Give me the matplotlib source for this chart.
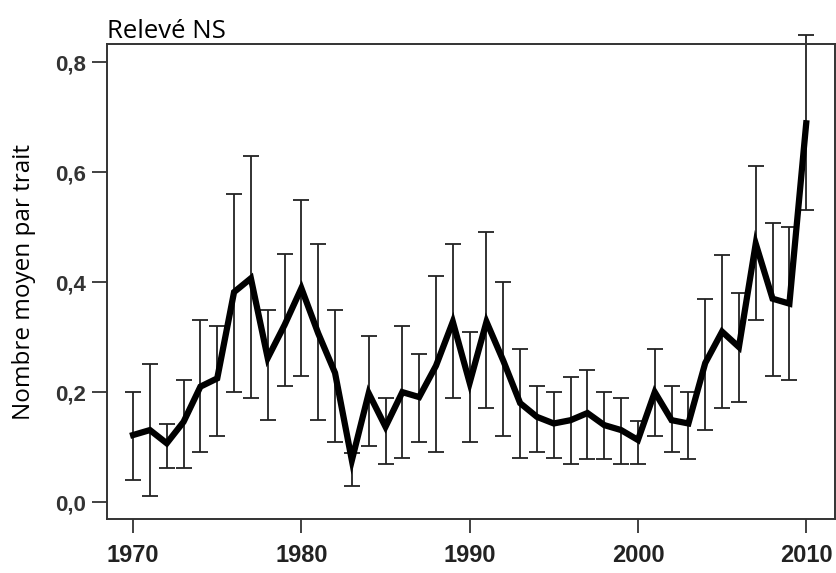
import numpy as np
import matplotlib.pyplot as plt

years = np.arange(1970, 2011)
moyenne = [0.122, 0.131, 0.107, 0.146, 0.21, 0.225, 0.382, 0.407, 0.262, 0.322,
           0.389, 0.307, 0.235, 0.076, 0.198, 0.137, 0.2, 0.191, 0.248, 0.328,
           0.217, 0.328, 0.257, 0.18, 0.155, 0.143, 0.149, 0.162, 0.14, 0.131,
           0.113, 0.2, 0.149, 0.143, 0.253, 0.31, 0.282, 0.47, 0.37, 0.361, 0.689]
haut = [0.2, 0.251, 0.142, 0.222, 0.331, 0.32, 0.56, 0.629, 0.349, 0.451,
        0.549, 0.469, 0.349, 0.09, 0.302, 0.189, 0.32, 0.269, 0.411, 0.469,
        0.31, 0.491, 0.4, 0.279, 0.211, 0.2, 0.228, 0.24, 0.2, 0.189,
        0.148, 0.279, 0.211, 0.2, 0.37, 0.45, 0.381, 0.611, 0.508, 0.5, 0.849]
bas = [0.04, 0.011, 0.062, 0.062, 0.091, 0.12, 0.2, 0.19, 0.149, 0.211,
       0.229, 0.149, 0.11, 0.029, 0.102, 0.069, 0.08, 0.11, 0.091, 0.189,
       0.11, 0.171, 0.12, 0.08, 0.091, 0.08, 0.07, 0.079, 0.079, 0.07,
       0.07, 0.12, 0.091, 0.079, 0.131, 0.171, 0.182, 0.331, 0.229, 0.222, 0.531]

moyenne = np.array(moyenne)
err = [moyenne - np.array(bas), np.array(haut) - moyenne]

fig = plt.figure(figsize=(8.36, 5.73), dpi=100)
ax = fig.add_axes([0.128, 0.094, 0.871, 0.829])

eb = ax.errorbar(years, moyenne, yerr=err, fmt='none', ecolor='#222222',
                 elinewidth=1.3, capsize=6, capthick=1.3, zorder=2)
for art in eb.lines[1] + eb.lines[2]:
    art.set_clip_on(False)
ax.plot(years, moyenne, color='black', lw=4.5, solid_joinstyle='miter', zorder=3)

ax.set_xlim(1968.45, 2011.72)
ax.set_ylim(-0.031, 0.833)
ax.set_xticks([1970, 1980, 1990, 2000, 2010])
ax.set_xticklabels(['1970', '1980', '1990', '2000', '2010'],
                   family=['Liberation Sans Narrow', 'Liberation Sans'], fontsize=17,
                   fontweight='bold', color='#222222')
ax.set_yticks([0, 0.2, 0.4, 0.6, 0.8])
ax.set_yticklabels(['0,0', '0,2', '0,4', '0,6', '0,8'],
                   family='Liberation Sans', fontsize=16, fontweight='bold', color='#333333')
ax.tick_params(axis='x', length=10, width=1.3, color='#333333', pad=8)
ax.tick_params(axis='y', length=11, width=1.3, color='#333333', pad=4)
for s in ax.spines.values():
    s.set_linewidth(1.4)
    s.set_color('#333333')

ax.set_ylabel('Nombre moyen par trait', family='Open Sans', fontsize=17.5, labelpad=14)
ax.set_title('Relevé NS', family='Open Sans', fontsize=18.5, loc='left', pad=2)

fig.savefig('out.png', dpi=100)
